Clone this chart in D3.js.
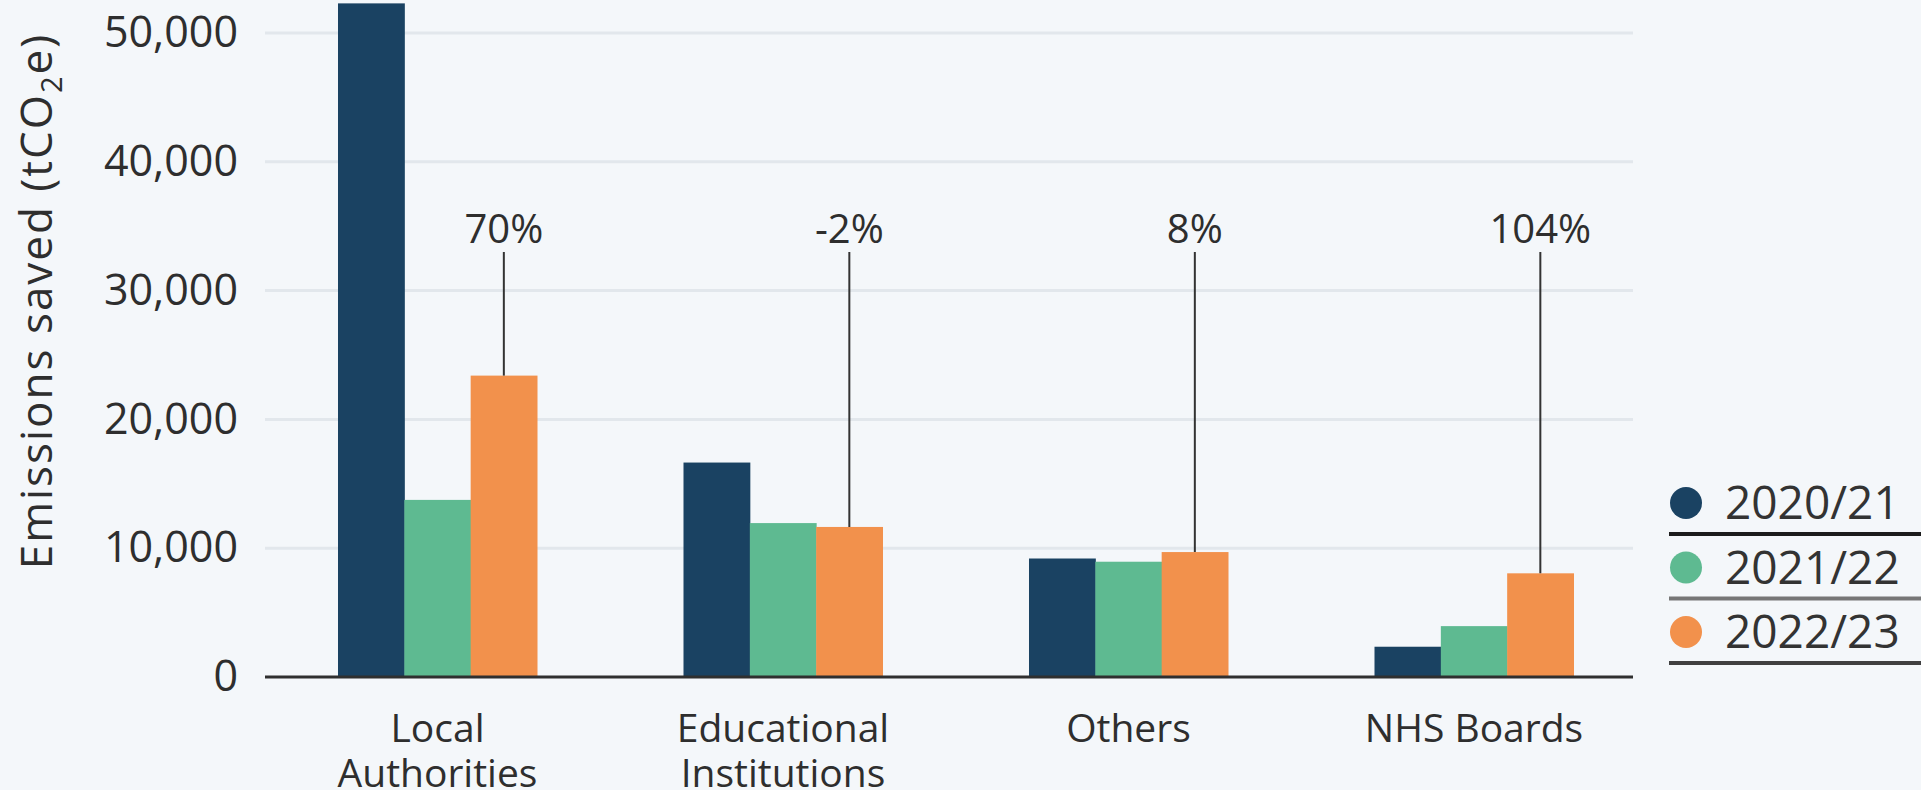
<!DOCTYPE html>
<html>
<head>
<meta charset="utf-8">
<script src="https://cdn.jsdelivr.net/npm/d3@7"></script>
<style>
  html, body { margin: 0; padding: 0; background: #f4f7fa; }
  svg { display: block; font-family: "Open Sans", sans-serif; }
</style>
</head>
<body>
<div id="chart"></div>
<script>
// data
let categories = ["Local Authorities", "Educational Institutions", "Others", "NHS Boards"];
let categoryLines = [["Local", "Authorities"], ["Educational", "Institutions"], ["Others"], ["NHS Boards"]];
let years = ["2020/21", "2021/22", "2022/23"];
let values2020 = [52300, 16650, 9200, 2350];
let values2021 = [13750, 11950, 8950, 3950];
let values2022 = [23400, 11650, 9700, 8050];
let changeLabels = ["70%", "-2%", "8%", "104%"];
let yTicks = [0, 10000, 20000, 30000, 40000, 50000];
let colors = ["#1a4262", "#5eba91", "#f2914c"];
let ruleColors = ["#1c1c1c", "#767676", "#404040"];

let series = [values2020, values2021, values2022];

let width = 1921, height = 790;
let plotLeft = 265, plotRight = 1633;

let svg = d3.select("#chart")
    .append("svg")
    .attr("width", width)
    .attr("height", height);

svg.append("rect")
    .attr("width", width)
    .attr("height", height)
    .attr("fill", "#f4f7fa");

let y = d3.scaleLinear()
    .domain([0, 50000])
    .range([677, 33]);

let x = d3.scaleBand()
    .domain(categories)
    .range([264.75, 1646.75])
    .paddingInner(0.424)
    .paddingOuter(0.212);

let xInner = d3.scaleBand()
    .domain(years)
    .range([0, x.bandwidth()]);

// gridlines
svg.append("g")
    .selectAll("line")
    .data(yTicks.filter(d => d > 0))
    .enter()
    .append("line")
    .attr("x1", plotLeft)
    .attr("x2", plotRight)
    .attr("y1", d => y(d))
    .attr("y2", d => y(d))
    .attr("stroke", "#e2e7ec")
    .attr("stroke-width", 3);

// y axis labels
let yAxis = d3.axisLeft(y)
    .tickValues(yTicks)
    .tickFormat(d3.format(","))
    .tickSize(0)
    .tickPadding(0);

let yAxisG = svg.append("g")
    .attr("transform", "translate(238,0)")
    .call(yAxis);
yAxisG.select(".domain").remove();
yAxisG.selectAll("text")
    .attr("font-size", 43)
    .attr("font-family", "Open Sans, sans-serif")
    .attr("fill", "#2e2e2e");

// y title
svg.append("text")
    .attr("transform", "translate(52,301) rotate(-90)")
    .attr("text-anchor", "middle")
    .attr("font-size", 44)
    .attr("letter-spacing", 2)
    .attr("fill", "#2e2e2e")
    .call(t => {
        t.append("tspan").text("Emissions saved (tCO");
        t.append("tspan").attr("font-size", 29).attr("dy", 10).text("2");
        t.append("tspan").attr("dy", -10).text("e)");
    });

// bars
let groups = svg.append("g")
    .selectAll("g")
    .data(categories)
    .enter()
    .append("g")
    .attr("transform", d => "translate(" + x(d) + ",0)");

groups.selectAll("rect")
    .data((d, i) => years.map((yr, j) => ({ year: yr, value: series[j][i], color: colors[j] })))
    .enter()
    .append("rect")
    .attr("x", d => xInner(d.year))
    .attr("width", xInner.bandwidth() + 0.5)
    .attr("y", d => y(d.value))
    .attr("height", d => y(0) - y(d.value))
    .attr("fill", d => d.color);

// zero line
svg.append("line")
    .attr("x1", plotLeft)
    .attr("x2", plotRight)
    .attr("y1", y(0))
    .attr("y2", y(0))
    .attr("stroke", "#2f2f2f")
    .attr("stroke-width", 3);

// change annotations
let ann = svg.append("g")
    .selectAll("g")
    .data(categories)
    .enter()
    .append("g");

ann.append("line")
    .attr("x1", (d) => x(d) + xInner("2022/23") + xInner.bandwidth() / 2)
    .attr("x2", (d) => x(d) + xInner("2022/23") + xInner.bandwidth() / 2)
    .attr("y1", 252)
    .attr("y2", (d, i) => y(values2022[i]))
    .attr("stroke", "#333")
    .attr("stroke-width", 2);

ann.append("text")
    .attr("x", (d) => x(d) + xInner("2022/23") + xInner.bandwidth() / 2)
    .attr("y", 243)
    .attr("text-anchor", "middle")
    .attr("font-size", 40)
    .attr("fill", "#2e2e2e")
    .text((d, i) => changeLabels[i]);

// x labels
let xLab = svg.append("g")
    .selectAll("text")
    .data(categories)
    .enter()
    .append("text")
    .attr("x", d => x(d) + x.bandwidth() / 2)
    .attr("y", 742)
    .attr("text-anchor", "middle")
    .attr("font-size", 39)
    .attr("fill", "#2e2e2e");

xLab.selectAll("tspan")
    .data((d, i) => categoryLines[i])
    .enter()
    .append("tspan")
    .attr("x", function() { return this.parentNode.getAttribute("x"); })
    .attr("dy", (d, i) => i == 0 ? 0 : 45)
    .text(d => d);

// legend
let legend = svg.append("g")
    .selectAll("g")
    .data(years)
    .enter()
    .append("g")
    .attr("transform", (d, i) => "translate(0," + (503 + i * 64.5) + ")");

legend.append("circle")
    .attr("cx", 1686)
    .attr("cy", 0)
    .attr("r", 16)
    .attr("fill", (d, i) => colors[i]);

legend.append("text")
    .attr("x", 1725)
    .attr("y", 16)
    .attr("font-size", 46)
    .attr("fill", "#333")
    .text(d => d);

legend.append("rect")
    .attr("x", 1669)
    .attr("y", 29)
    .attr("width", width - 1669)
    .attr("height", 4)
    .attr("fill", (d, i) => ruleColors[i]);
</script>
</body>
</html>
